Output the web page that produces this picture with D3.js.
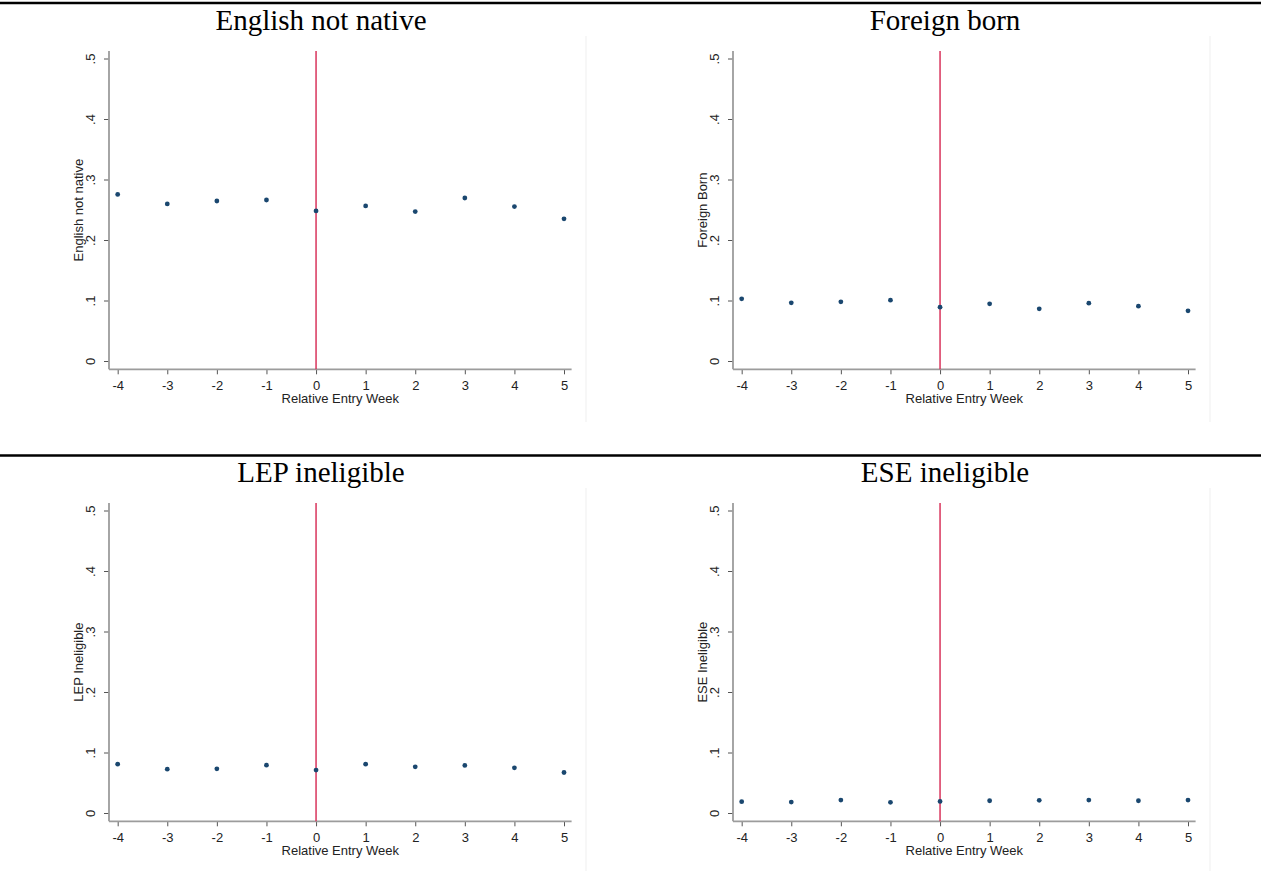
<!DOCTYPE html>
<html>
<head>
<meta charset="utf-8">
<script src="https://cdn.jsdelivr.net/npm/d3@7"></script>
<style>
  html, body { margin: 0; padding: 0; background: #fff; }
  svg { display: block; }
</style>
</head>
<body>
<svg id="chart" width="1261" height="871"></svg>
<script>
// Relative entry week (x) and the share of entrants with each characteristic (y)
const weeks = [-4, -3, -2, -1, 0, 1, 2, 3, 4, 5];
const englishNotNative = [0.2754, 0.2596, 0.2645, 0.2661, 0.2481, 0.2563, 0.2470, 0.2694, 0.2552, 0.2350];
const foreignBorn      = [0.1028, 0.0961, 0.0978, 0.1006, 0.0890, 0.0945, 0.0862, 0.0956, 0.0906, 0.0829];
const lepIneligible    = [0.0808, 0.0725, 0.0731, 0.0791, 0.0709, 0.0808, 0.0764, 0.0786, 0.0747, 0.0670];
const eseIneligible    = [0.0187, 0.0181, 0.0214, 0.0176, 0.0192, 0.0203, 0.0209, 0.0214, 0.0203, 0.0214];

const panelTitles = ["English not native", "Foreign born", "LEP ineligible", "ESE ineligible"];
const yTitles     = ["English not native", "Foreign Born", "LEP Ineligible", "ESE Ineligible"];
const yTicks      = [0, 0.1, 0.2, 0.3, 0.4, 0.5];
const yTickLabels = ["0", ".1", ".2", ".3", ".4", ".5"];
const xTitle      = "Relative Entry Week";
const eventWeek   = 0;

const seriesList = [englishNotNative, foreignBorn, lepIneligible, eseIneligible];

const svg = d3.select("#chart");
const W = 1261, H = 871;
svg.append("rect").attr("width", W).attr("height", H).attr("fill", "#fff");

const colW = 624, rowH = 452;
// plot area of one panel (relative to the panel origin)
const plot = { left: 109, right: 571.6, top: 51, bottom: 369.3 };

const serif = "'Liberation Serif','Times New Roman',Times,serif";
const sans  = "'Liberation Sans',Arial,Helvetica,sans-serif";

// rules above each row of panels
[3, 455.5].forEach(y => {
  svg.append("line").attr("x1", 0).attr("x2", W).attr("y1", y).attr("y2", y)
    .attr("stroke", "#000").attr("stroke-width", 2.6);
});

seriesList.forEach((vals, i) => {
  const col = i % 2, row = Math.floor(i / 2);
  const g = svg.append("g").attr("transform", `translate(${col * colW},${row * rowH})`);

  const x = d3.scaleLinear().domain([-4.175, 5.153]).range([plot.left, plot.right]);
  const y = d3.scaleLinear().domain([-0.0137, 0.5124]).range([plot.bottom, plot.top]);

  // faint edge of the graph region
  g.append("line").attr("x1", 586).attr("x2", 586).attr("y1", 36).attr("y2", 422)
    .attr("stroke", "#efefef").attr("stroke-width", 1);

  // panel title
  g.append("text")
    .attr("x", 321).attr("y", 30)
    .attr("text-anchor", "middle")
    .attr("font-family", serif).attr("font-size", 29)
    .attr("fill", "#000")
    .text(panelTitles[i]);

  // y axis
  const yAxis = d3.axisLeft(y).tickValues(yTicks).tickFormat((d, k) => yTickLabels[k])
    .tickSize(5).tickPadding(0);
  const ya = g.append("g").attr("transform", `translate(${plot.left},0)`).call(yAxis);
  ya.select(".domain").remove();
  ya.selectAll(".tick line").attr("stroke", "#555").attr("stroke-width", 1);
  ya.selectAll(".tick text")
    .attr("x", null).attr("dy", null)
    .attr("transform", "translate(-14,0) rotate(-90)")
    .attr("text-anchor", "middle")
    .attr("font-family", sans).attr("font-size", 13).attr("fill", "#222");
  g.append("line").attr("x1", plot.left).attr("x2", plot.left)
    .attr("y1", plot.top).attr("y2", plot.bottom)
    .attr("stroke", "#9c9c9c").attr("stroke-width", 1.8);

  // x axis
  const xAxis = d3.axisBottom(x).tickValues(weeks).tickFormat(d3.format("d"))
    .tickSize(5).tickPadding(2);
  const xa = g.append("g").attr("transform", `translate(0,${plot.bottom})`).call(xAxis);
  xa.select(".domain").remove();
  xa.selectAll(".tick line").attr("stroke", "#555").attr("stroke-width", 1);
  xa.selectAll(".tick text")
    .attr("dy", null).attr("y", 20.7)
    .attr("font-family", sans).attr("font-size", 13).attr("fill", "#222")
    .text(d => d < 0 ? "-" + Math.abs(d) : String(d));
  g.append("line").attr("x1", plot.left).attr("x2", plot.right)
    .attr("y1", plot.bottom).attr("y2", plot.bottom)
    .attr("stroke", "#9c9c9c").attr("stroke-width", 1.8);

  // axis titles
  g.append("text")
    .attr("transform", `translate(83,${(plot.top + plot.bottom) / 2}) rotate(-90)`)
    .attr("text-anchor", "middle")
    .attr("font-family", sans).attr("font-size", 13).attr("fill", "#222")
    .text(yTitles[i]);
  g.append("text")
    .attr("x", (plot.left + plot.right) / 2).attr("y", 402.8)
    .attr("text-anchor", "middle")
    .attr("font-family", sans).attr("font-size", 13).attr("fill", "#222")
    .text(xTitle);

  // entry-week marker
  g.append("line")
    .attr("x1", x(eventWeek)).attr("x2", x(eventWeek))
    .attr("y1", plot.top).attr("y2", plot.bottom)
    .attr("stroke", "#d62550").attr("stroke-width", 1.4);

  // means by week
  g.selectAll("circle.pt").data(weeks.map((w, k) => ({ w, v: vals[k] })))
    .enter().append("circle").attr("class", "pt")
    .attr("cx", d => x(d.w)).attr("cy", d => y(d.v))
    .attr("r", 2.4).attr("fill", "#1a476f");
});
</script>
</body>
</html>
